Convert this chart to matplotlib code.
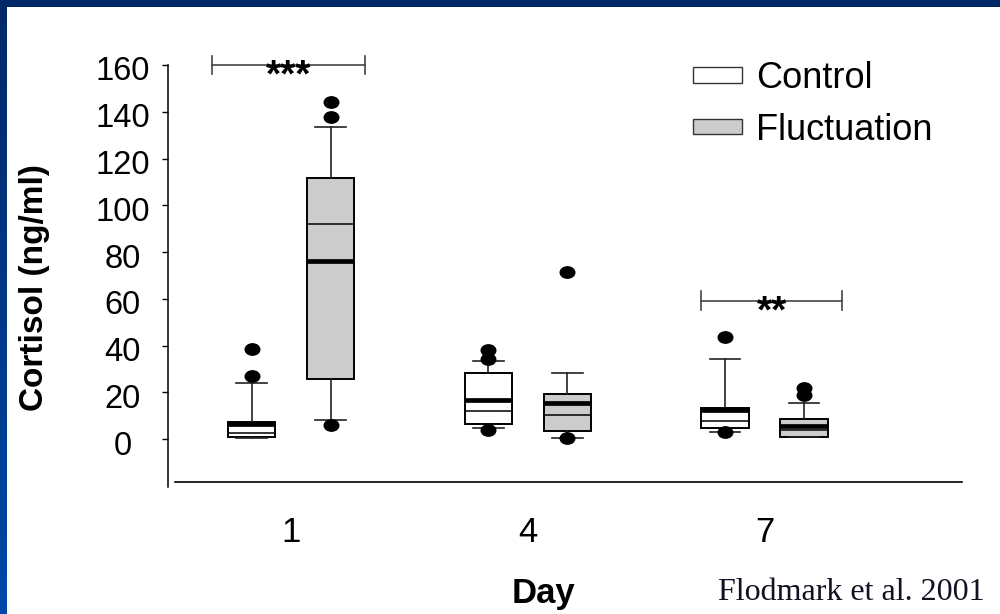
import numpy as np
import matplotlib
matplotlib.use("Agg")
import matplotlib.pyplot as plt
from matplotlib.patches import Patch, Rectangle
from matplotlib.colors import LinearSegmentedColormap
from matplotlib.path import Path
import matplotlib.transforms as mtransforms

plt.rcParams['font.family'] = ['Liberation Sans', 'DejaVu Sans']

# ---------------- data ----------------
days = ["1", "4", "7"]
groups = ["Control", "Fluctuation"]

# box statistics per day (Control, Fluctuation)
ctrl_q1 = [0.8, 6.4, 4.8]
ctrl_q3 = [7.5, 28.3, 13.4]
ctrl_med = [6.5, 16.6, 12.3]
ctrl_mean = [2.6, 12.0, 7.8]
ctrl_whislo = [0.5, 4.8, 3.0]
ctrl_whishi = [24.0, 33.5, 34.3]
ctrl_fliers = [[27.0, 38.4], [3.8, 34.3, 38.1], [3.0, 43.7]]

fluc_q1 = [25.7, 3.4, 0.9]
fluc_q3 = [111.6, 19.4, 8.7]
fluc_med = [76.0, 15.4, 5.6]
fluc_mean = [92.0, 10.4, 4.0]
fluc_whislo = [8.1, 0.6, 0.9]
fluc_whishi = [133.5, 28.3, 15.4]
fluc_fliers = [[6.0, 137.8, 144.2], [0.4, 71.5], [18.8, 21.8]]

sig_labels = ["***", "**"]
sig_levels = [160.0, 59.2]
sig_left = [0.664, 2.732]
sig_right = [1.311, 3.328]

yticks = [0, 20, 40, 60, 80, 100, 120, 140, 160]

# ---------------- figure ----------------
W, H = 1000, 614
fig = plt.figure(figsize=(W / 100, H / 100), dpi=100)
fig.patch.set_facecolor("white")

# blue slide frame
bg = fig.add_axes([0, 0, 1, 1], zorder=-10)
bg.set_xlim(0, W)
bg.set_ylim(H, 0)
bg.axis("off")
cm = LinearSegmentedColormap.from_list("frame", ["#002866", "#0048A8"])
grad = np.linspace(0, 1, 256).reshape(-1, 1)
bg.imshow(grad, extent=[0, 6.5, H, 0], cmap=cm, aspect="auto", interpolation="bilinear")
bg.add_patch(Rectangle((0, 0), W, 7, color="#002866", lw=0))

# main axes
x0, x1 = 168, 962
ytop, ybot = 65, 487
ax = fig.add_axes([x0 / W, 1 - ybot / H, (x1 - x0) / W, (ybot - ytop) / H])
ax.set_facecolor("none")
ax.set_xlim(0.478, 3.835)
ax.set_ylim(-20.5, 160)

pos = np.arange(1, len(days) + 1)
off = 0.167
bw = 0.199
capw = 0.131


def stats(q1, q3, med, mean, lo, hi, fl):
    out = []
    for i in range(len(q1)):
        out.append(dict(q1=q1[i], q3=q3[i], med=med[i], mean=mean[i],
                        whislo=lo[i], whishi=hi[i], fliers=fl[i]))
    return out


ell = Path.unit_circle()
ell = Path(ell.vertices * np.array([1.0, 0.78]), ell.codes)

common = dict(widths=bw, capwidths=capw, patch_artist=True, showmeans=True,
              meanline=True, showfliers=True,
              medianprops=dict(color="black", lw=3.4, solid_capstyle="butt"),
              meanprops=dict(color="black", lw=1.1, linestyle="-"),
              whiskerprops=dict(color="#222222", lw=1.2),
              capprops=dict(color="#222222", lw=1.2),
              flierprops=dict(marker=ell, markersize=10.5, markerfacecolor="black",
                              markeredgecolor="black", linestyle="none"))

ax.bxp(stats(ctrl_q1, ctrl_q3, ctrl_med, ctrl_mean, ctrl_whislo, ctrl_whishi, ctrl_fliers),
       positions=pos - off, boxprops=dict(facecolor="white", edgecolor="black", lw=1.4),
       manage_ticks=False, **common)
ax.bxp(stats(fluc_q1, fluc_q3, fluc_med, fluc_mean, fluc_whislo, fluc_whishi, fluc_fliers),
       positions=pos + off, boxprops=dict(facecolor="#CCCCCC", edgecolor="black", lw=1.4),
       manage_ticks=False, **common)

# significance bars
for lab, lev, l, r in zip(sig_labels, sig_levels, sig_left, sig_right):
    ax.plot([l, r], [lev, lev], color="#444444", lw=1.2, clip_on=False)
    ax.plot([l, l], [lev - 4.0, lev + 4.0], color="#444444", lw=1.2, clip_on=False)
    ax.plot([r, r], [lev - 4.0, lev + 4.0], color="#444444", lw=1.2, clip_on=False)
    ax.annotate(lab, xy=((l + r) / 2, lev), xytext=(0, -15.5), textcoords="offset points",
                ha="center", va="baseline", fontsize=28, fontweight="bold",
                annotation_clip=False)

# axes styling
for s in ["top", "right", "bottom"]:
    ax.spines[s].set_visible(False)
ax.spines["left"].set_linewidth(1.1)
ax.axhline(-18.4, xmin=(175 - x0) / (x1 - x0), xmax=1, color="black", lw=1.2, clip_on=False)

ax.set_yticks(yticks)
ax.set_yticklabels([str(v) for v in yticks])
ax.tick_params(axis="y", length=4.5, width=1.0, pad=28, labelsize=23.5, direction="out")
for t in ax.get_yticklabels():
    t.set_ha("center")
    t.set_va("center")
yoff = mtransforms.ScaledTranslation(0, -7 / 100, fig.dpi_scale_trans)
for tk in ax.yaxis.get_major_ticks():
    tk.label1.set_transform(tk.label1.get_transform() + yoff)

ax.set_xticks(pos)
ax.set_xticklabels(days)
ax.tick_params(axis="x", length=0, pad=21, labelsize=25)

# axis titles
fig.text(35 / W, 1 - 288 / H, "Cortisol (ng/ml)", rotation=90, ha="center", va="center",
         fontsize=24, fontweight="bold")
fig.text(544 / W, 1 - 593 / H, "Day", ha="center", va="center", fontsize=25, fontweight="bold")
fig.text(985 / W, 1 - 592 / H, "Flodmark et al. 2001", ha="right", va="center",
         fontsize=23, family=["Liberation Serif", "DejaVu Serif"], color="#111122")

# legend
handles = [Patch(facecolor="white", edgecolor="#333333", lw=1.0),
           Patch(facecolor="#CCCCCC", edgecolor="#333333", lw=1.0)]
fig.legend(handles, groups, loc="upper left", bbox_to_anchor=(693 / W, 1 - 61 / H),
           frameon=False, fontsize=26, handlelength=1.36, handleheight=0.28,
           handletextpad=0.38, borderpad=0, borderaxespad=0, labelspacing=0.46)

fig.savefig("out.png", dpi=100)
